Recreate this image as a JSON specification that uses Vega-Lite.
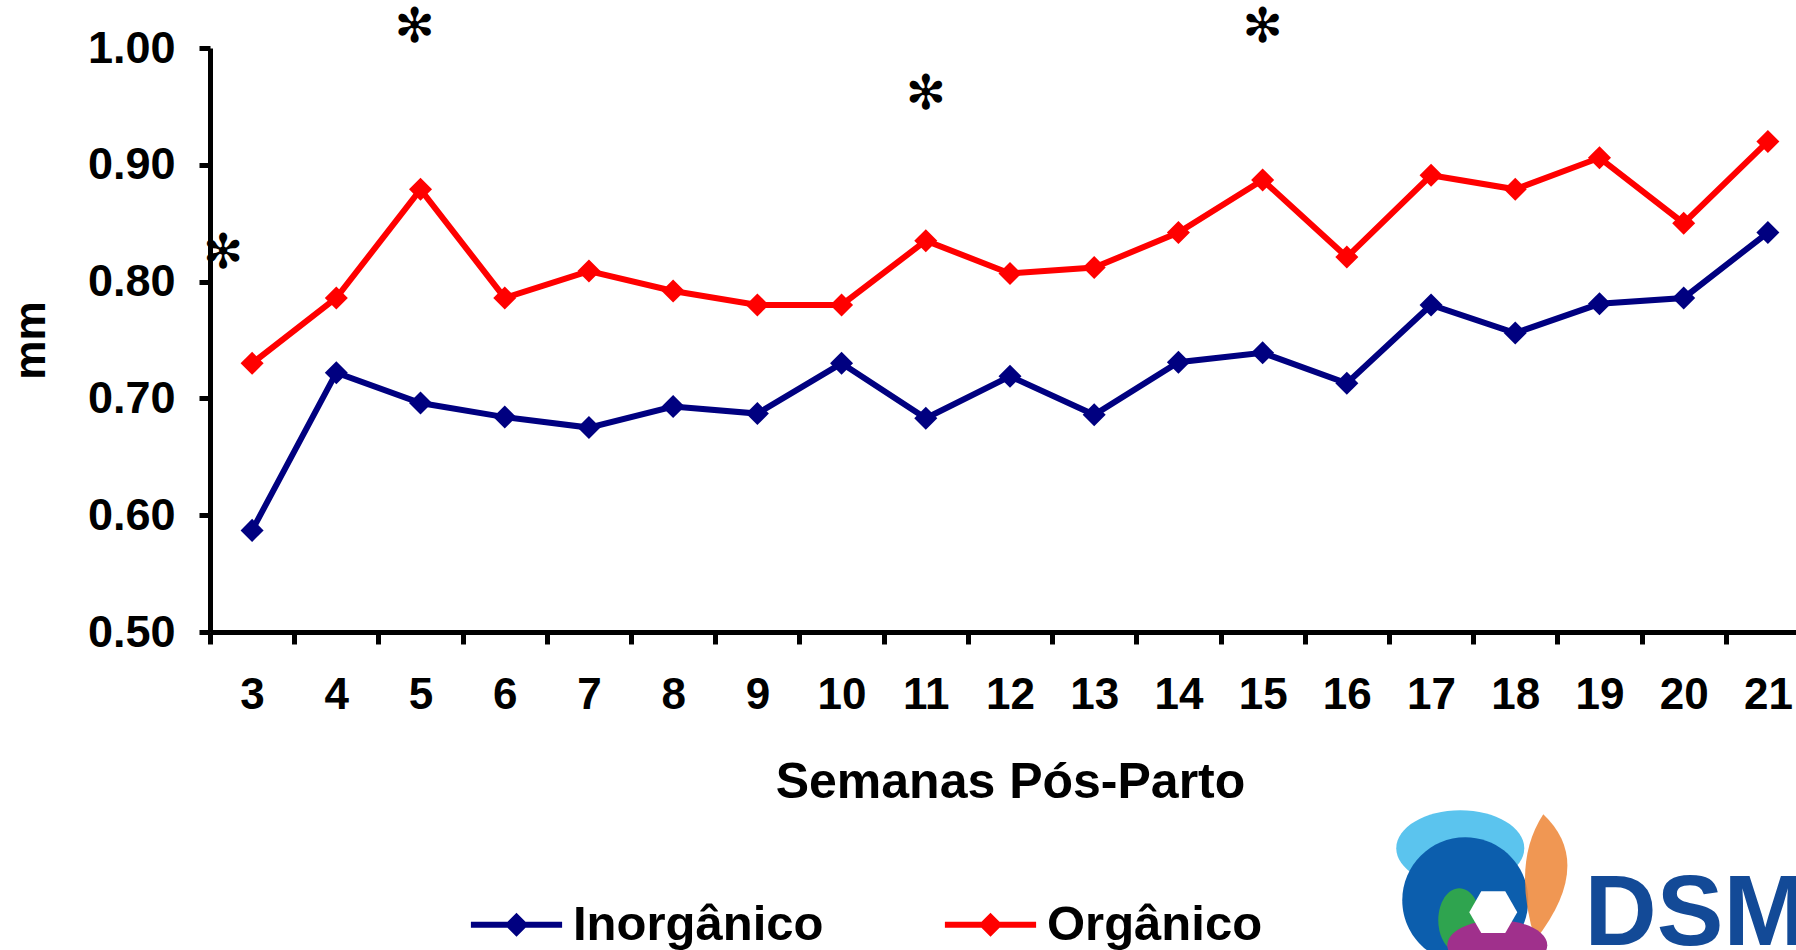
{
  "$schema": "https://vega.github.io/schema/vega-lite/v6.json",
  "autosize": {"type": "none"},
  "padding": {"left": 210, "top": 48, "right": 0, "bottom": 318},
  "width": 1586,
  "height": 584,
  "background": "white",
  "config": {"view": {"stroke": null}, "font": "Liberation Sans"},
  "datasets": {
    "series": [
      {"semana": 3, "grupo": "Inorgânico", "mm": 0.587},
      {"semana": 4, "grupo": "Inorgânico", "mm": 0.722},
      {"semana": 5, "grupo": "Inorgânico", "mm": 0.696},
      {"semana": 6, "grupo": "Inorgânico", "mm": 0.684},
      {"semana": 7, "grupo": "Inorgânico", "mm": 0.675},
      {"semana": 8, "grupo": "Inorgânico", "mm": 0.693},
      {"semana": 9, "grupo": "Inorgânico", "mm": 0.687},
      {"semana": 10, "grupo": "Inorgânico", "mm": 0.730},
      {"semana": 11, "grupo": "Inorgânico", "mm": 0.683},
      {"semana": 12, "grupo": "Inorgânico", "mm": 0.719},
      {"semana": 13, "grupo": "Inorgânico", "mm": 0.686},
      {"semana": 14, "grupo": "Inorgânico", "mm": 0.731},
      {"semana": 15, "grupo": "Inorgânico", "mm": 0.739},
      {"semana": 16, "grupo": "Inorgânico", "mm": 0.713},
      {"semana": 17, "grupo": "Inorgânico", "mm": 0.780},
      {"semana": 18, "grupo": "Inorgânico", "mm": 0.756},
      {"semana": 19, "grupo": "Inorgânico", "mm": 0.781},
      {"semana": 20, "grupo": "Inorgânico", "mm": 0.786},
      {"semana": 21, "grupo": "Inorgânico", "mm": 0.842},
      {"semana": 3, "grupo": "Orgânico", "mm": 0.730},
      {"semana": 4, "grupo": "Orgânico", "mm": 0.786},
      {"semana": 5, "grupo": "Orgânico", "mm": 0.879},
      {"semana": 6, "grupo": "Orgânico", "mm": 0.786},
      {"semana": 7, "grupo": "Orgânico", "mm": 0.809},
      {"semana": 8, "grupo": "Orgânico", "mm": 0.792},
      {"semana": 9, "grupo": "Orgânico", "mm": 0.780},
      {"semana": 10, "grupo": "Orgânico", "mm": 0.780},
      {"semana": 11, "grupo": "Orgânico", "mm": 0.835},
      {"semana": 12, "grupo": "Orgânico", "mm": 0.807},
      {"semana": 13, "grupo": "Orgânico", "mm": 0.812},
      {"semana": 14, "grupo": "Orgânico", "mm": 0.842},
      {"semana": 15, "grupo": "Orgânico", "mm": 0.887},
      {"semana": 16, "grupo": "Orgânico", "mm": 0.821},
      {"semana": 17, "grupo": "Orgânico", "mm": 0.891},
      {"semana": 18, "grupo": "Orgânico", "mm": 0.879},
      {"semana": 19, "grupo": "Orgânico", "mm": 0.906},
      {"semana": 20, "grupo": "Orgânico", "mm": 0.850},
      {"semana": 21, "grupo": "Orgânico", "mm": 0.920}
    ],
    "stars": [
      {"semana": 11, "mm": 0.960, "label": "✻"},
      {"semana": 15, "mm": 1.017, "label": "✻"}
    ],
    "star5": [
      {"semana": 5, "mm": 1.017, "label": "✻"}
    ],
    "star3": [
      {"semana": 3, "mm": 0.824, "label": "✻"}
    ],
    "logo": [
      {"semana": 19, "mm": 0.232, "label": "DSM"}
    ],
    "emblem": [
      {"semana": 18, "mm": 0.279}
    ]
  },
  "encoding": {
    "x": {
      "field": "semana",
      "type": "ordinal",
      "scale": {"type": "band", "paddingInner": 0, "paddingOuter": 0, "range": [0, 1600]},
      "axis": {
        "title": "Semanas Pós-Parto",
        "labelAngle": 0,
        "tickBand": "extent",
        "grid": false,
        "domainColor": "black",
        "domainWidth": 5,
        "tickColor": "black",
        "tickWidth": 5,
        "tickSize": 12,
        "labelFont": "Liberation Sans",
        "labelFontWeight": "bold",
        "labelFontSize": 44,
        "labelColor": "black",
        "labelPadding": 29,
        "labelOverlap": false,
        "labelFlush": false,
        "labelBound": false,
        "titleFont": "Liberation Sans",
        "titleFontSize": 50,
        "titleFontWeight": "bold",
        "titleColor": "black",
        "titlePadding": 40
      }
    },
    "y": {
      "field": "mm",
      "type": "quantitative",
      "scale": {"domain": [0.5, 1.0], "nice": false, "zero": false},
      "axis": {
        "title": "mm",
        "values": [0.5, 0.6, 0.7, 0.8, 0.9, 1.0],
        "format": ".2f",
        "grid": false,
        "domainColor": "black",
        "domainWidth": 5,
        "tickColor": "black",
        "tickWidth": 5,
        "tickSize": 11,
        "labelFont": "Liberation Sans",
        "labelFontWeight": "bold",
        "labelFontSize": 45,
        "labelColor": "black",
        "labelPadding": 24,
        "titleFont": "Liberation Sans",
        "titleFontSize": 44,
        "titleFontWeight": "bold",
        "titleColor": "black",
        "titlePadding": 34
      }
    }
  },
  "layer": [
    {
      "data": {"name": "series"},
      "mark": {"type": "line", "strokeWidth": 6},
      "encoding": {
        "color": {
          "field": "grupo",
          "type": "nominal",
          "scale": {"domain": ["Inorgânico", "Orgânico"], "range": ["#000080", "#FF0000"]},
          "legend": {
            "title": null,
            "orient": "none",
            "legendX": 282,
            "legendY": 852,
            "direction": "horizontal",
            "symbolType": "M-3.8,-0.25H3.8V0.25H-3.8Z M0,-1L1,0L0,1L-1,0Z",
            "symbolSize": 576,
            "symbolStrokeWidth": 0,
            "symbolOpacity": 1,
            "labelFont": "Liberation Sans",
            "labelFontSize": 49,
            "labelFontWeight": "bold",
            "labelColor": "black",
            "labelOffset": 32,
            "columnPadding": 120,
            "labelLimit": 0
          }
        }
      }
    },
    {
      "data": {"name": "series"},
      "mark": {"type": "point", "shape": "diamond", "filled": true, "size": 530, "opacity": 1, "strokeWidth": 0},
      "encoding": {
        "color": {
          "field": "grupo",
          "type": "nominal",
          "scale": {"domain": ["Inorgânico", "Orgânico"], "range": ["#000080", "#FF0000"]},
          "legend": {
            "title": null,
            "orient": "none",
            "legendX": 282,
            "legendY": 852,
            "direction": "horizontal",
            "symbolType": "M-3.8,-0.25H3.8V0.25H-3.8Z M0,-1L1,0L0,1L-1,0Z",
            "symbolSize": 576,
            "symbolStrokeWidth": 0,
            "symbolOpacity": 1,
            "labelFont": "Liberation Sans",
            "labelFontSize": 49,
            "labelFontWeight": "bold",
            "labelColor": "black",
            "labelOffset": 32,
            "columnPadding": 120,
            "labelLimit": 0
          }
        }
      }
    },
    {
      "data": {"name": "stars"},
      "mark": {"type": "text", "font": "DejaVu Sans", "fontSize": 48, "baseline": "middle", "color": "black"},
      "encoding": {"text": {"field": "label"}}
    },
    {
      "data": {"name": "star5"},
      "mark": {"type": "text", "font": "DejaVu Sans", "fontSize": 48, "baseline": "middle", "color": "black", "dx": -6},
      "encoding": {"text": {"field": "label"}}
    },
    {
      "data": {"name": "star3"},
      "mark": {"type": "text", "font": "DejaVu Sans", "fontSize": 48, "baseline": "middle", "color": "black", "dx": -29},
      "encoding": {"text": {"field": "label"}}
    },
    {
      "data": {"name": "emblem"},
      "mark": {"type": "point", "filled": true, "size": 10000, "opacity": 1, "strokeWidth": 0, "color": "#5BC4EE",
        "shape": "M-2.38,-0.84A1.28,0.76 0 1 0 0.18,-0.84A1.28,0.76 0 1 0 -2.38,-0.84Z"},
      "encoding": {}
    },
    {
      "data": {"name": "emblem"},
      "mark": {"type": "point", "filled": true, "size": 10000, "opacity": 1, "strokeWidth": 0, "color": "#0C5EAD",
        "shape": "M-2.26,0.2A1.26,1.26 0 1 0 0.26,0.2A1.26,1.26 0 1 0 -2.26,0.2Z"},
      "encoding": {}
    },
    {
      "data": {"name": "emblem"},
      "mark": {"type": "point", "filled": true, "size": 10000, "opacity": 0.9, "strokeWidth": 0, "color": "#EE8C40",
        "shape": "M0.56,-1.52Q1.6,-0.54 0.4,1.0Q-0.08,-0.54 0.56,-1.52Z"},
      "encoding": {}
    },
    {
      "data": {"name": "emblem"},
      "mark": {"type": "point", "filled": true, "size": 10000, "opacity": 1, "strokeWidth": 0, "color": "#2FA44F",
        "shape": "M-1.54,0.6A0.42,0.64 0 1 0 -0.7,0.6A0.42,0.64 0 1 0 -1.54,0.6Z"},
      "encoding": {}
    },
    {
      "data": {"name": "emblem"},
      "mark": {"type": "point", "filled": true, "size": 10000, "opacity": 1, "strokeWidth": 0, "color": "#A0308C",
        "shape": "M-1.36,1.1A1.0,0.5 0 1 0 0.64,1.1A1.0,0.5 0 1 0 -1.36,1.1Z"},
      "encoding": {}
    },
    {
      "data": {"name": "emblem"},
      "mark": {"type": "point", "filled": true, "size": 10000, "opacity": 1, "strokeWidth": 0, "color": "white",
        "shape": "M0.04,0.44L-0.2,0.856L-0.68,0.856L-0.92,0.44L-0.68,0.024L-0.2,0.024Z"},
      "encoding": {}
    },
    {
      "data": {"name": "logo"},
      "mark": {"type": "text", "font": "Liberation Sans", "fontWeight": "bold", "fontSize": 100, "baseline": "alphabetic", "align": "left", "dx": -15, "color": "#134A97"},
      "encoding": {"text": {"field": "label"}}
    }
  ]
}
